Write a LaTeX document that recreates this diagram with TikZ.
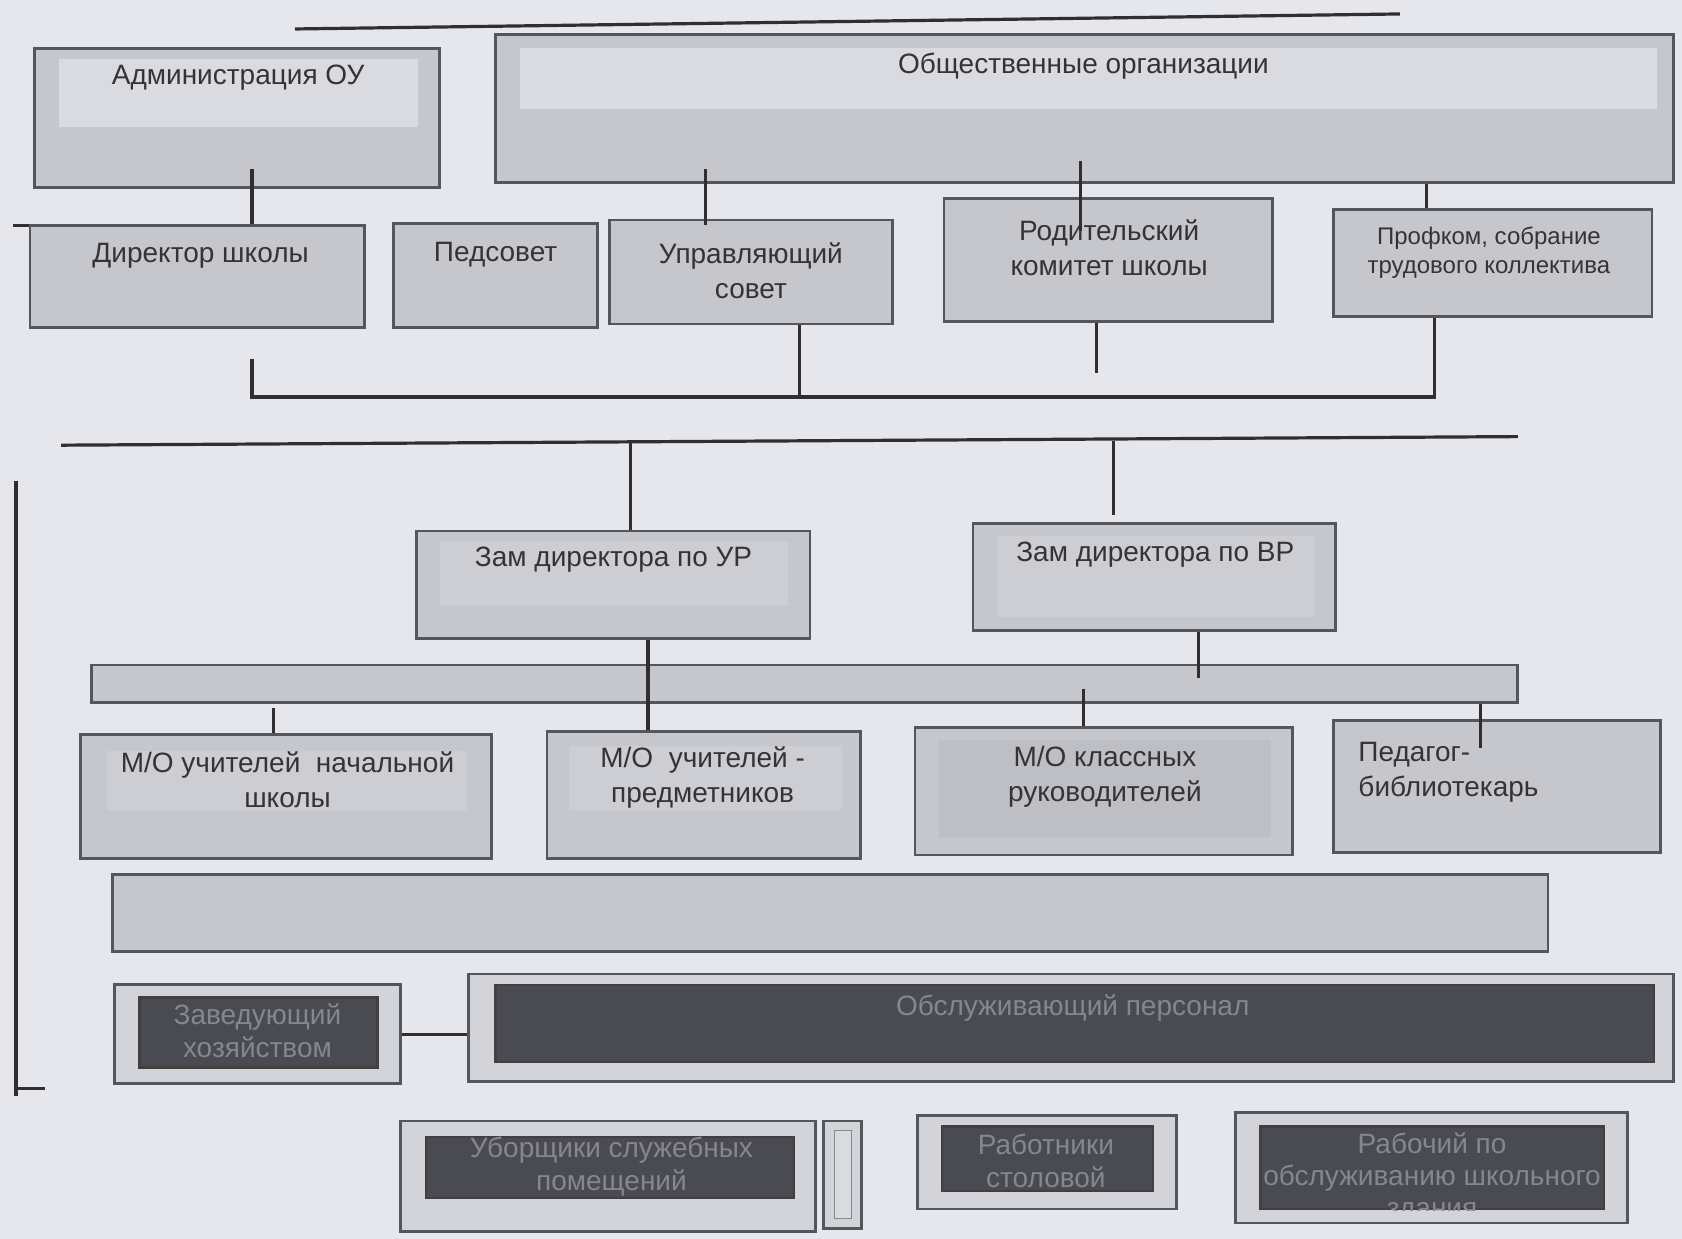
\documentclass[tikz,border=0pt]{standalone}
\usepackage{fontspec}
\setmainfont{Liberation Sans}
\usetikzlibrary{fit}
\definecolor{bg}{HTML}{E6E7EC}
\definecolor{boxfill}{HTML}{C6C7CC}
\definecolor{lightin}{HTML}{DADBE0}
\definecolor{midin}{HTML}{CDCED3}
\definecolor{framefill}{HTML}{D3D4D9}
\definecolor{darkin}{HTML}{4A4A52}
\definecolor{edge}{HTML}{55565B}
\definecolor{linec}{HTML}{2E2E33}
\definecolor{txt}{HTML}{333338}
\definecolor{dtxt}{HTML}{86868D}
\begin{document}
\begin{tikzpicture}[x=0.53635pt,y=-0.53635pt,
  box/.style={draw=edge,fill=boxfill,line width=1.4pt,inner sep=0pt},
  framebox/.style={draw=edge,fill=framefill,line width=1.4pt,inner sep=0pt},
  lightpart/.style={fill=lightin,draw=none,inner sep=0pt},
  midpart/.style={fill=midin,draw=none,inner sep=0pt},
  darkpart/.style={fill=darkin,draw=black!75,line width=1.2pt,inner sep=0pt},
  lbl/.style={text=txt,font=\fontsize{14}{17.5}\selectfont,align=center,inner sep=0pt},
  slbl/.style={text=txt,font=\fontsize{12}{14.5}\selectfont,align=center,inner sep=0pt},
  dlbl/.style={text=dtxt,font=\fontsize{14}{16.5}\selectfont,align=center,inner sep=0pt},
  conn/.style={draw=linec,line width=1.6pt}]
\fill[bg] (0,0) rectangle (1568,1155);
\useasboundingbox (0,0) rectangle (1568,1155);

% top line
\coordinate (tl1) at (275,27);
\coordinate (tl2) at (1305,13);
\draw[conn] (tl1) -- (tl2);

% top boxes
\node[box,fit={(32,45)(410,175)}] (adm) {};
\node[lightpart,fit={(55,55)(390,118)}] (admin) {};
\node[lbl] (admt) at (222,72) {Администрация ОУ};

\node[box,fit={(462,32)(1560,170)}] (obs) {};
\node[lightpart,fit={(485,45)(1545,102)}] (obsin) {};
\node[lbl] (obst) at (1010,62) {Общественные организации};

% second row
\node[box,fit={(28,210)(340,305)}] (dir) {};
\node[lbl] (dirt) at (187,238) {Директор школы};
\node[box,fit={(367,208)(557,305)}] (ped) {};
\node[lbl] (pedt) at (462,237) {Педсовет};
\node[box,fit={(568,205)(832,302)}] (upr) {};
\node[lbl] (uprt) at (700,252) {Управляющий\\совет};
\node[box,fit={(880,185)(1186,300)}] (rod) {};
\node[lbl] (rodt) at (1034,231) {Родительский\\комитет школы};
\node[box,fit={(1243,195)(1540,295)}] (prof) {};
\node[slbl] (proft) at (1388,236) {Профком, собрание\\трудового коллектива};

% connectors top
\coordinate (xa) at (235,0);
\coordinate (xb) at (658,0);
\coordinate (xc) at (1007,0);
\coordinate (xd) at (1330,0);
\coordinate (xe) at (745,0);
\coordinate (xf) at (1022,0);
\coordinate (xg) at (1337,0);
\coordinate (ya) at (0,158);
\coordinate (yb) at (0,150);
\coordinate (yc) at (0,215);
\coordinate (ybr) at (0,370);
\coordinate (ybt) at (0,335);
\coordinate (yrf) at (0,348);
\draw[conn] (xa |- ya) -- (dir.north -| xa);
\draw[conn] (xb |- ya) -- ([yshift=-3pt]upr.north -| xb);
\draw[conn] (xc |- yb) -- (xc |- yc);
\draw[conn] (obs.south -| xd) -- (prof.north -| xd);
\coordinate (dirtick) at (12,210);
\draw[conn] (dirtick) -- (dirtick -| dir.west);
% bracket
\draw[conn] (xa |- ybt) -- (xa |- ybr) -- (xg |- ybr) -- (prof.south -| xg);
\draw[conn] (upr.south -| xe) -- (xe |- ybr);
\draw[conn] (rod.south -| xf) -- (xf |- yrf);

% long line
\coordinate (ll1) at (57,415);
\coordinate (ll2) at (1415,407);
\draw[conn] (ll1) -- (ll2);
% left vertical
\coordinate (lv1) at (15,448);
\coordinate (lv2) at (15,1022);
\coordinate (lv3) at (42,1015);
\draw[conn] (lv1) -- (lv2);
\draw[conn] (lv3 -| lv1) -- (lv3);

% zam boxes
\node[box,fit={(388,495)(755,595)}] (zur) {};
\node[midpart,fit={(410,505)(735,565)}] (zurin) {};
\node[lbl] (zurt) at (572,522) {Зам директора по УР};
\node[box,fit={(907,488)(1245,588)}] (zvr) {};
\node[midpart,fit={(930,500)(1225,575)}] (zvrin) {};
\node[lbl] (zvrt) at (1077,517) {Зам директора по ВР};

\coordinate (x1) at (588,0);
\coordinate (x2) at (1038,0);
\coordinate (y41) at (0,411);
\coordinate (y480) at (0,480);
\draw[conn] (x1 |- y41) -- (zur.north -| x1);
\draw[conn] (x2 |- y41) -- (x2 |- y480);

% thin bar
\node[box,fit={(85,620)(1415,655)}] (bar) {};

% M/O row
\node[box,fit={(75,685)(458,800)}] (mo1) {};
\node[midpart,fit={(100,700)(435,755)}] (mo1in) {};
\node[lbl] (mo1t) at (268,727) {М/О учителей\ \ начальной\\школы};
\node[box,fit={(510,682)(802,800)}] (mo2) {};
\node[midpart,fit={(530,695)(785,755)}] (mo2in) {};
\node[lbl] (mo2t) at (655,725) {М/О\ \ учителей -\\предметников};
\node[box,fit={(853,678)(1205,797)}] (mo3) {};
\node[fill=boxfill!96!black,draw=none,inner sep=0pt,fit={(875,690)(1185,780)}] (mo3in) {};
\node[lbl] (mo3t) at (1030,724) {М/О классных\\руководителей};
\node[box,fit={(1243,672)(1548,795)}] (bib) {};
\node[lbl,align=left,anchor=west] (bibt) at (1266,720) {Педагог-\\библиотекарь};

\coordinate (x3) at (604,0);
\coordinate (x4) at (1117,0);
\coordinate (x5) at (255,0);
\coordinate (x6) at (1010,0);
\coordinate (x7) at (1380,0);
\coordinate (y632) at (0,632);
\coordinate (y642) at (0,642);
\coordinate (y695) at (0,697);
\draw[conn] (zur.south -| x3) -- (mo2.north -| x3);
\draw[conn] (zvr.south -| x4) -- (x4 |- y632);
\draw[conn] ([yshift=-2pt]bar.south -| x5) -- (mo1.north -| x5);
\draw[conn] (x6 |- y642) -- (mo3.north -| x6);
\draw[conn] (bar.south -| x7) -- (x7 |- y695);

% big bar
\node[box,fit={(105,815)(1443,887)}] (bigbar) {};

% service row
\node[framebox,fit={(107,918)(373,1010)}] (zav) {};
\node[darkpart,fit={(130,930)(352,995)}] (zavin) {};
\node[dlbl] (zavt) at (240,961) {Заведующий\\хозяйством};
\node[framebox,fit={(437,908)(1560,1008)}] (obsl) {};
\node[darkpart,fit={(462,918)(1542,990)}] (obslin) {};
\node[dlbl] (obslt) at (1000,940) {Обслуживающий персонал};
\draw[conn] (zav.east) -- (obsl.west |- zav.east);

\node[framebox,fit={(373,1045)(760,1148)}] (ub) {};
\node[darkpart,fit={(397,1060)(740,1117)}] (ubin) {};
\node[dlbl] (ubt) at (570,1087) {Уборщики служебных\\помещений};
\node[framebox,fit={(768,1045)(803,1145)}] (nar) {};
\node[fill=lightin,draw=edge!70,line width=0.6pt,inner sep=0pt,fit={(778,1054)(794,1136)}] (narin) {};
\node[framebox,fit={(855,1040)(1097,1127)}] (stol) {};
\node[darkpart,fit={(878,1050)(1075,1110)}] (stolin) {};
\node[dlbl] (stolt) at (975,1082) {Работники\\столовой};
\node[framebox,fit={(1152,1037)(1517,1140)}] (rab) {};
\node[darkpart,fit={(1175,1050)(1495,1127)}] (rabin) {};
\begin{scope}
\clip (rabin.south west) rectangle (rabin.north east);
\node[dlbl,font=\fontsize{14}{16}\selectfont] (rabt) at (1335,1098) {Рабочий по\\обслуживанию школьного\\здания};
\end{scope}
\end{tikzpicture}
\end{document}
